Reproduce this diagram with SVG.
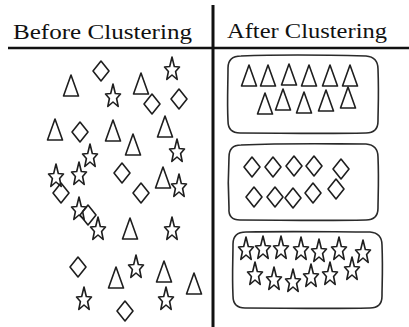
<svg xmlns="http://www.w3.org/2000/svg" width="409" height="327" viewBox="0 0 409 327">
<style>
.s{fill:none;stroke:#1e1e1e;stroke-width:1.6;stroke-linejoin:round}
.box{fill:none;stroke:#2a2a2a;stroke-width:1.6}
.hd{font-family:"Liberation Serif","Times New Roman",serif;font-size:21px;fill:#111}
</style>
<defs>
<path id="tri" class="s" d="M0,0 L7.5,21 L-7.5,21 Z"/>
<path id="dia" class="s" d="M0,-10 L8,0 L0,10 L-8,0 Z"/>
<path id="star" class="s" d="M0,-13 L2.3,-3.5 L7.5,-3 L3.6,1.5 L5.2,9.5 L0,5 L-5.2,9.5 L-3.6,1.5 L-7.5,-3 L-2.3,-3.5 Z"/>
</defs>
<rect width="409" height="327" fill="#fff"/>
<g id="header">
<text class="hd" x="13" y="39" textLength="179" lengthAdjust="spacingAndGlyphs">Before Clustering</text>
<text class="hd" x="227" y="38" textLength="160" lengthAdjust="spacingAndGlyphs">After Clustering</text>
<line x1="8" y1="48" x2="409" y2="48" stroke="#111" stroke-width="2.6"/>
<line x1="213" y1="5" x2="213" y2="327" stroke="#111" stroke-width="3"/>
</g>
<g id="before">
<use href="#tri" x="71" y="75"/>
<use href="#tri" x="141" y="73"/>
<use href="#tri" x="55" y="119"/>
<use href="#tri" x="113" y="120"/>
<use href="#tri" x="133" y="134"/>
<use href="#tri" x="165" y="116"/>
<use href="#tri" x="163" y="167"/>
<use href="#tri" x="130" y="218"/>
<use href="#tri" x="116" y="267"/>
<use href="#tri" x="164" y="261"/>
<use href="#tri" x="194" y="273"/>
<use href="#dia" x="101" y="71"/>
<use href="#dia" x="152" y="104"/>
<use href="#dia" x="179" y="99"/>
<use href="#dia" x="80" y="132"/>
<use href="#dia" x="122" y="173"/>
<use href="#dia" x="61" y="193"/>
<use href="#dia" x="141" y="193"/>
<use href="#dia" x="88" y="215"/>
<use href="#dia" x="78" y="267"/>
<use href="#dia" x="125" y="311"/>
<use href="#star" x="172" y="70"/>
<use href="#star" x="113" y="97"/>
<use href="#star" x="177" y="152"/>
<use href="#star" x="90" y="157"/>
<use href="#star" x="56" y="177"/>
<use href="#star" x="79" y="175"/>
<use href="#star" x="179" y="187"/>
<use href="#star" x="79" y="210"/>
<use href="#star" x="98" y="230"/>
<use href="#star" x="172" y="230"/>
<use href="#star" x="136" y="268"/>
<use href="#star" x="84" y="300"/>
<use href="#star" x="166" y="300"/>
</g>
<g id="cluster-triangles">
<path class="box" d="M241,56 C290,54 330,55 366,56 Q378,57 378,69 C379,95 378,110 378,121 Q378,133 366,133 C320,134 280,133 240,133 Q228,133 228,121 C227,100 228,85 228,68 Q228,56 241,56 Z"/>
<use href="#tri" x="249" y="65"/>
<use href="#tri" x="268" y="65"/>
<use href="#tri" x="289" y="64"/>
<use href="#tri" x="309" y="65"/>
<use href="#tri" x="330" y="65"/>
<use href="#tri" x="350" y="65"/>
<use href="#tri" x="265" y="93"/>
<use href="#tri" x="283" y="89"/>
<use href="#tri" x="304" y="92"/>
<use href="#tri" x="326" y="90"/>
<use href="#tri" x="348" y="87"/>
</g>
<g id="cluster-diamonds">
<path class="box" d="M241,145 C290,143 330,144 366,144 Q378,145 378,157 C379,180 378,198 378,208 Q378,220 366,220 C320,221 280,220 240,220 Q228,220 229,208 C228,190 228,175 229,157 Q229,145 241,145 Z"/>
<use href="#dia" x="252" y="167"/>
<use href="#dia" x="273" y="167"/>
<use href="#dia" x="294" y="166"/>
<use href="#dia" x="314" y="166"/>
<use href="#dia" x="341" y="169"/>
<use href="#dia" x="254" y="197"/>
<use href="#dia" x="275" y="197"/>
<use href="#dia" x="293" y="198"/>
<use href="#dia" x="313" y="193"/>
<use href="#dia" x="336" y="189"/>
</g>
<g id="cluster-stars">
<path class="box" d="M246,232 C295,231 335,232 370,232 Q382,233 382,245 C383,270 382,285 382,296 Q382,308 370,308 C325,309 285,308 245,308 Q233,308 233,296 C232,275 233,260 233,244 Q233,232 246,232 Z"/>
<use href="#star" x="246" y="250"/>
<use href="#star" x="263" y="249"/>
<use href="#star" x="281" y="249"/>
<use href="#star" x="301" y="250"/>
<use href="#star" x="319" y="252"/>
<use href="#star" x="339" y="250"/>
<use href="#star" x="363" y="253"/>
<use href="#star" x="255" y="275"/>
<use href="#star" x="274" y="280"/>
<use href="#star" x="293" y="282"/>
<use href="#star" x="311" y="277"/>
<use href="#star" x="330" y="275"/>
<use href="#star" x="352" y="270"/>
</g>
</svg>
